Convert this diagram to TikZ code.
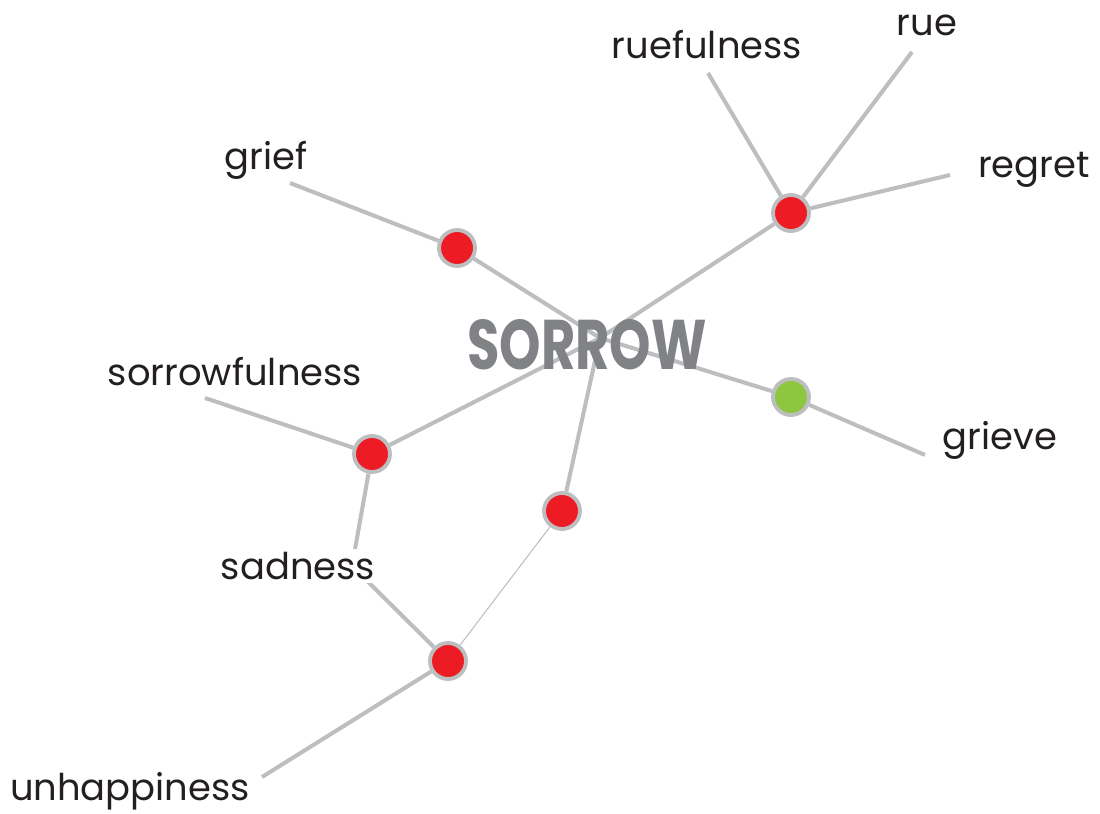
\documentclass[tikz,border=0pt]{standalone}
\usepackage{fontspec}
\setmainfont{Poppins}
\usetikzlibrary{backgrounds}

\definecolor{wordred}{HTML}{ED1C24}
\definecolor{wordgreen}{HTML}{8DC63F}
\definecolor{linkgray}{HTML}{BCBEC0}
\definecolor{hubgray}{HTML}{808285}
\definecolor{ink}{HTML}{231F20}

\begin{document}
\begin{tikzpicture}[
  x=0.02cm, y=-0.02cm,
  sense/.style={circle, draw=linkgray, line width=2.2pt, fill=wordred, minimum size=0.72cm, inner sep=0pt},
  word/.style={font=\fontsize{21}{24}\selectfont, text=ink, inner sep=1pt},
  link/.style={draw=linkgray, line width=2.3pt},
  thinlink/.style={draw=linkgray, line width=0.6pt},
]
\useasboundingbox (0,0) rectangle (1100,814);

% hub and free ends
\coordinate (hub) at (600,338);
\coordinate (griefend) at (290,183);
\coordinate (ruefulend) at (708,73);
\coordinate (rueend) at (912,52);
\coordinate (regretend) at (950,175);
\coordinate (grieveend) at (925,455);
\coordinate (sorrowfulend) at (205,398);
\coordinate (sadend) at (352,566);
\coordinate (unhappyend) at (262,777);

% senses
\node[sense] (sgrief)   at (457,248) {};
\node[sense] (sregret)  at (791,213) {};
\node[sense, fill=wordgreen] (sgrieve) at (791,397) {};
\node[sense] (ssorrow)  at (372,454) {};
\node[sense] (smid)     at (562,511) {};
\node[sense] (ssad)     at (448,661) {};

% words
\node[font=\bfseries\fontsize{40}{44}\selectfont, text=hubgray, xscale=0.75, inner sep=0pt] (sorrow) at (587,345) {SORROW};
\node[word] (grief)        at (266,160) {grief};
\node[word] (ruefulness)   at (707,45)  {ruefulness};
\node[word] (rue)          at (927,25)  {rue};
\node[word] (regret)       at (1034,170) {regret};
\node[word] (grieve)       at (1000,440) {grieve};
\node[word] (sorrowfulness) at (235,372) {sorrowfulness};
\node[word, fill=white, inner sep=2pt] (sadness) at (298,566) {sadness};
\node[word] (unhappiness)  at (130,791) {unhappiness};

\begin{scope}[on background layer]
  \draw[link] (hub) -- (sgrief) -- (griefend);
  \draw[link] (hub) -- (sregret) -- (ruefulend);
  \draw[link] (sregret) -- (rueend);
  \draw[link] (sregret) -- (regretend);
  \draw[link] (hub) -- (sgrieve) -- (grieveend);
  \draw[link] (hub) -- (ssorrow) -- (sorrowfulend);
  \draw[link] (ssorrow) -- (sadend) -- (ssad);
  \draw[link] (hub) -- (smid);
  \draw[thinlink] (smid) -- (ssad);
  \draw[link] (ssad) -- (unhappyend);
\end{scope}
\end{tikzpicture}
\end{document}
